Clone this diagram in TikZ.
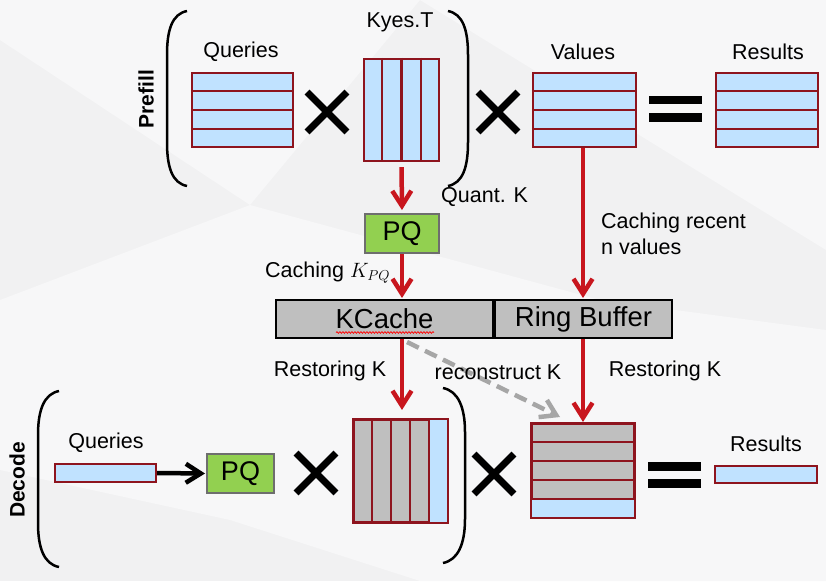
\documentclass[tikz,border=0pt]{standalone}
\usepackage{fontspec}
\setmainfont{Liberation Sans}
\usetikzlibrary{arrows.meta,calc,shapes.misc,decorations.pathmorphing}
\definecolor{bgc}{RGB}{241,241,242}
\definecolor{bgl}{RGB}{247,247,248}
\definecolor{mred}{RGB}{142,20,30}
\definecolor{lblue}{RGB}{192,226,255}
\definecolor{agray}{RGB}{191,191,191}
\definecolor{ared}{RGB}{200,22,30}
\definecolor{pqg}{RGB}{146,208,80}
\definecolor{pqb}{RGB}{110,110,110}
\definecolor{dgray}{RGB}{166,166,166}
\tikzset{
  lbl/.style={font=\fontsize{21.5}{26}\selectfont, inner sep=0pt},
  blbl/.style={font=\fontsize{21}{26}\selectfont\bfseries, inner sep=0pt, rotate=90},
  mat/.style={draw=mred, line width=2.1pt, fill=lblue, inner sep=0pt},
  mline/.style={draw=mred, line width=2.1pt},
  pqbox/.style={draw=pqb, line width=2pt, fill=pqg, inner sep=0pt, font=\fontsize{27}{30}\selectfont},
  cachebox/.style={draw=black, line width=2pt, fill=agray, inner sep=0pt, font=\fontsize{27.5}{30}\selectfont},
  redarrow/.style={draw=ared, line width=4.5pt, -{Straight Barb[length=15pt,width=19pt]}},
  blkarrow/.style={draw=black, line width=4.5pt, -{Straight Barb[length=15pt,width=19pt]}},
  dasharrow/.style={draw=dgray, line width=4.5pt, dash pattern=on 13pt off 7pt, -{Straight Barb[length=15pt,width=19pt]}},
  timesx/.style={cross out, draw=black, line width=6.8pt, minimum size=33pt, inner sep=0pt},
  eqbar/.style={fill=black, minimum width=53pt, minimum height=8.5pt, inner sep=0pt},
  paren/.style={draw=black, line width=2.5pt}
}
\begin{document}
\begin{tikzpicture}[x=1pt,y=-1pt]
\useasboundingbox (0,0) rectangle (826,581);
% background
\fill[bgc] (0,0) rectangle (826,581);
\fill[bgl] (0,40) -- (250,205) -- (420,0) -- (0,0) -- cycle;
\fill[bgl] (420,0) -- (826,250) -- (826,0) -- cycle;
\fill[bgl] (250,205) -- (0,300) -- (0,470) -- (230,520) -- (420,581) -- (826,581) -- (826,330) -- (600,300) -- cycle;

% ---------- Prefill ----------
\node[blbl] (prefill) at (146,99) {Prefill};
\draw[paren] (187,11) .. controls (172,14) and (167,30) .. (167,55) -- (167,142) .. controls (167,167) and (172,183) .. (187,186);
\draw[paren] (448,11) .. controls (463,14) and (468,30) .. (468,55) -- (468,142) .. controls (468,167) and (463,183) .. (448,186);

\node[lbl] (ql) at (241,52) {Queries};
\node[mat, minimum width=101pt, minimum height=74pt] (q1) at (242.5,110) {};
\foreach \i in {1,2,3} \draw[mline] ($(q1.north west)!\i/4!(q1.south west)$) -- ($(q1.north east)!\i/4!(q1.south east)$);

\node[timesx] (x1) at (327,112) {};

\node[lbl] (kl) at (400,22) {Kyes.T};
\node[mat, minimum width=75pt, minimum height=102pt] (k1) at (401.5,110) {};
\foreach \i in {1,2,3} \draw[mline] ($(k1.north west)!\i/4!(k1.north east)$) -- ($(k1.south west)!\i/4!(k1.south east)$);

\node[timesx] (x2) at (498,112) {};

\node[lbl] (vl) at (583,52) {Values};
\node[mat, minimum width=103pt, minimum height=74pt] (v1) at (584.5,110) {};
\foreach \i in {1,2,3} \draw[mline] ($(v1.north west)!\i/4!(v1.south west)$) -- ($(v1.north east)!\i/4!(v1.south east)$);

\node[eqbar] (e1a) at (675.5,100) {};
\node[eqbar] (e1b) at (675.5,117.5) {};

\node[lbl] (rl) at (768,52) {Results};
\node[mat, minimum width=102pt, minimum height=74pt] (r1) at (767,110) {};
\foreach \i in {1,2,3} \draw[mline] ($(r1.north west)!\i/4!(r1.south west)$) -- ($(r1.north east)!\i/4!(r1.south east)$);

% ---------- middle ----------
\node[pqbox, minimum width=74pt, minimum height=39pt] (pq1) at (402,233.5) {PQ};
\node[cachebox, minimum width=217pt, minimum height=38pt] (kc) at (384.5,319) {KCache};
\node[cachebox, minimum width=177pt, minimum height=38pt] (rb) at (583.5,319) {Ring Buffer};
\draw[red, line width=0.7pt, decorate, decoration={snake, amplitude=0.9pt, segment length=3pt}] (336,332.5) -- (434,332.5);

\draw[redarrow, shorten <=5pt, shorten >=3pt] (k1.south) -- (pq1.north);
\node[lbl, anchor=west] (quant) at (441,197) {Quant. K};

\draw[redarrow, shorten >=1pt] (pq1.south) -- (pq1.south |- kc.north);
\node[lbl, anchor=west] (cachk) at (265,273) {Caching $K_{PQ}$};

\coordinate (vtop) at (583,148);
\draw[redarrow, shorten >=1pt] (vtop) -- (vtop |- rb.north);
\node[lbl, anchor=west, align=left] (cachv) at (601,234) {Caching recent\\n values};

% ---------- Decode ----------
\node[blbl] (decode) at (17,480) {Decode};
\draw[paren] (59,391) .. controls (44,394) and (38,410) .. (38,435) -- (38,523) .. controls (38,548) and (44,564) .. (59,567);
\draw[paren] (443,388) .. controls (458,391) and (465,407) .. (465,432) -- (465,519) .. controls (465,544) and (458,560) .. (443,563);

\node[lbl] (qdl) at (106,443) {Queries};
\node[mat, minimum width=101pt, minimum height=18pt] (qd) at (105.5,473) {};
\node[pqbox, minimum width=67pt, minimum height=39pt] (pqd) at (240.5,473.5) {PQ};
\draw[blkarrow, shorten >=1pt] (qd.east) -- (pqd.west);

\node[timesx] (xd1) at (316,473) {};

\node[mat, fill=agray, minimum width=93pt, minimum height=102pt] (kd) at (400.5,471) {};
\fill[lblue] ($(kd.north west)!0.8!(kd.north east)$) rectangle (kd.south east);
\foreach \i in {1,2,3,4} \draw[mline] ($(kd.north west)!\i/5!(kd.north east)$) -- ($(kd.south west)!\i/5!(kd.south east)$);
\draw[mline] (kd.north west) rectangle (kd.south east);

\node[timesx] (xd2) at (494,474) {};

\node[mat, fill=agray, minimum width=102pt, minimum height=93pt] (vd) at (583,470.5) {};
\fill[lblue] ($(vd.north west)!0.8!(vd.south west)$) rectangle (vd.south east);
\foreach \i in {1,2,3,4} \draw[mline] ($(vd.north west)!\i/5!(vd.south west)$) -- ($(vd.north east)!\i/5!(vd.south east)$);
\draw[mline] (vd.north west) rectangle (vd.south east);

\node[eqbar] (eda) at (674.5,466.5) {};
\node[eqbar] (edb) at (674.5,483.5) {};

\node[lbl] (rdl) at (766,444) {Results};
\node[mat, minimum width=102pt, minimum height=17pt] (rd) at (766,474.5) {};

% ---------- lower arrows ----------
\coordinate (kcout) at (402,339);
\draw[redarrow, shorten >=9pt] (kcout) -- (kcout |- kd.north);
\node[lbl] (rest1) at (330,371) {Restoring K};

\coordinate (rbout) at (583,339);
\draw[redarrow, shorten >=1pt] (rbout) -- (rbout |- vd.north);
\node[lbl] (rest2) at (665,371) {Restoring K};

\coordinate (dstart) at (407,342);
\coordinate (dend) at (560,417);
\draw[dasharrow] (dstart) -- (dend);
\node[lbl] (recon) at (498,372) {reconstruct K};
\end{tikzpicture}
\end{document}
